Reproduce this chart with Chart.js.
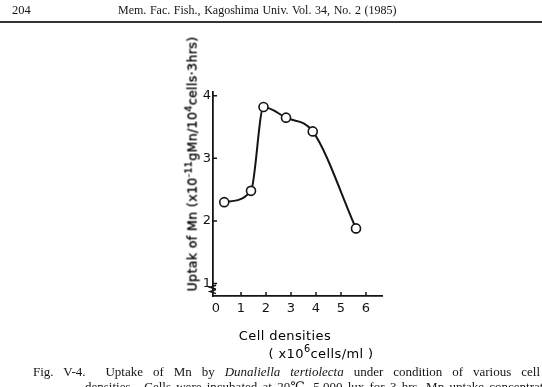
<!DOCTYPE html>
<html lang="en">
<head>
  <meta charset="UTF-8">
  <title>Fig. V-4 Uptake of Mn by Dunaliella tertiolecta</title>
  <script src="https://cdn.jsdelivr.net/npm/chart.js"></script>
  <style>
    body {
      margin: 0;
      width: 542px;
      height: 387px;
      overflow: hidden;
      position: relative;
      background: #fff;
      color: #151515;
      font-family: 'Liberation Serif', 'DejaVu Serif', serif;
    }
    #box { position: absolute; left: 0; top: 0; width: 542px; height: 387px; }
    .txt { position: absolute; white-space: nowrap; }
    .page-no { left: 12px; top: 3px; font-size: 12.5px; }
    .journal { left: 118px; top: 3px; font-size: 12px; word-spacing: 0.6px; }
    .rule { position: absolute; left: 0; top: 21px; width: 542px; height: 2px; background: #333; }
    .lbl { font-family: 'DejaVu Sans', sans-serif; font-size: 13px; letter-spacing: 0.4px; color: #000; }
    .ytitle { left: 192px; top: 164px; transform: translate(-50%, -50%) rotate(-90deg); font-size: 12.5px; -webkit-text-stroke: 0.35px #000; }
    .xtitle1 { left: 285px; top: 335px; transform: translate(-50%, -50%); }
    .xtitle2 { left: 321px; top: 353px; transform: translate(-50%, -50%); }
    sup { font-size: 75%; line-height: 0; }
    .cap { font-size: 13px; }
    .cap1 { left: 33px; top: 364px; width: 507px; text-align: justify; text-align-last: justify; white-space: normal; }
    .cap2 { left: 85px; top: 379px; word-spacing: 2px; }
  </style>
</head>
<body>
  <div id="box"><canvas id="uptakeChart"></canvas></div>

  <div class="txt page-no">204</div>
  <div class="txt journal">Mem. Fac. Fish., Kagoshima Univ. Vol. 34, No. 2 (1985)</div>
  <div class="rule"></div>

  <div class="txt lbl ytitle">Uptak of Mn (x10<sup>-11</sup>gMn/10<sup>4</sup>cells·3hrs)</div>
  <div class="txt lbl xtitle1">Cell densities</div>
  <div class="txt lbl xtitle2">( x10<sup>6</sup>cells/ml )</div>

  <div class="txt cap cap1">Fig. V-4. &nbsp;Uptake of Mn by <i>Dunaliella tertiolecta</i> under condition of various cell</div>
  <div class="txt cap cap2">densities. &nbsp;Cells were incubated at 20℃, 5,000 lux for 3 hrs. Mn uptake concentration</div>

  <script>
    // values
    const cellDensity = [0.33, 1.4, 1.9, 2.8, 3.87, 5.6];
    const mnUptake = [2.30, 2.48, 3.82, 3.65, 3.43, 1.88];
    const xTicks = [0, 1, 2, 3, 4, 5, 6];
    const yTicks = [1, 2, 3, 4];

    const ink = '#151515';
    const tickFont = { family: 'DejaVu Sans', size: 13 };

    // inward tick marks and the little break on the y axis
    const innerTicks = {
      id: 'innerTicks',
      afterDraw(chart) {
        const { ctx, scales: { x, y } } = chart;
        ctx.save();
        ctx.strokeStyle = ink;
        ctx.lineWidth = 1.5;
        ctx.beginPath();
        xTicks.forEach(v => {
          if (v === 0) return;
          const px = x.getPixelForValue(v);
          ctx.moveTo(px, y.bottom);
          ctx.lineTo(px, y.bottom - 4);
        });
        yTicks.forEach(v => {
          const py = y.getPixelForValue(v);
          ctx.moveTo(x.left, py);
          ctx.lineTo(x.left + 4, py);
        });
        [0.94, 0.87].forEach(v => {
          const py = y.getPixelForValue(v);
          ctx.moveTo(x.left + 3, py - 2);
          ctx.lineTo(x.left - 3, py);
          ctx.lineTo(x.left + 3, py + 2);
        });
        ctx.stroke();
        ctx.restore();
      }
    };

    new Chart(document.getElementById('uptakeChart'), {
      type: 'line',
      data: {
        datasets: [{
          data: cellDensity.map((d, i) => ({ x: d, y: mnUptake[i] })),
          borderColor: ink,
          borderWidth: 2,
          cubicInterpolationMode: 'monotone',
          pointRadius: 4.5,
          pointBackgroundColor: '#fff',
          pointBorderColor: ink,
          pointBorderWidth: 1.6,
          fill: false
        }]
      },
      options: {
        responsive: true,
        maintainAspectRatio: false,
        animation: false,
        events: [],
        layout: { padding: { left: 176, top: 92, right: 160, bottom: 0 } },
        plugins: { legend: { display: false }, tooltip: { enabled: false } },
        scales: {
          x: {
            type: 'linear',
            min: -0.12,
            max: 6.64,
            afterBuildTicks: s => { s.ticks = xTicks.map(v => ({ value: v })); },
            afterFit: s => { s.height = 91; },
            grid: { drawOnChartArea: false, drawTicks: false },
            border: { color: ink, width: 1.8 },
            ticks: { color: ink, font: tickFont, padding: 5, maxRotation: 0 }
          },
          y: {
            min: 0.8,
            max: 4.06,
            afterBuildTicks: s => { s.ticks = yTicks.map(v => ({ value: v })); },
            afterFit: s => { s.width = 37; },
            grid: { drawOnChartArea: false, drawTicks: false },
            border: { color: ink, width: 1.8 },
            ticks: { color: ink, font: tickFont, padding: 2 }
          }
        }
      },
      plugins: [innerTicks]
    });
  </script>
</body>
</html>
